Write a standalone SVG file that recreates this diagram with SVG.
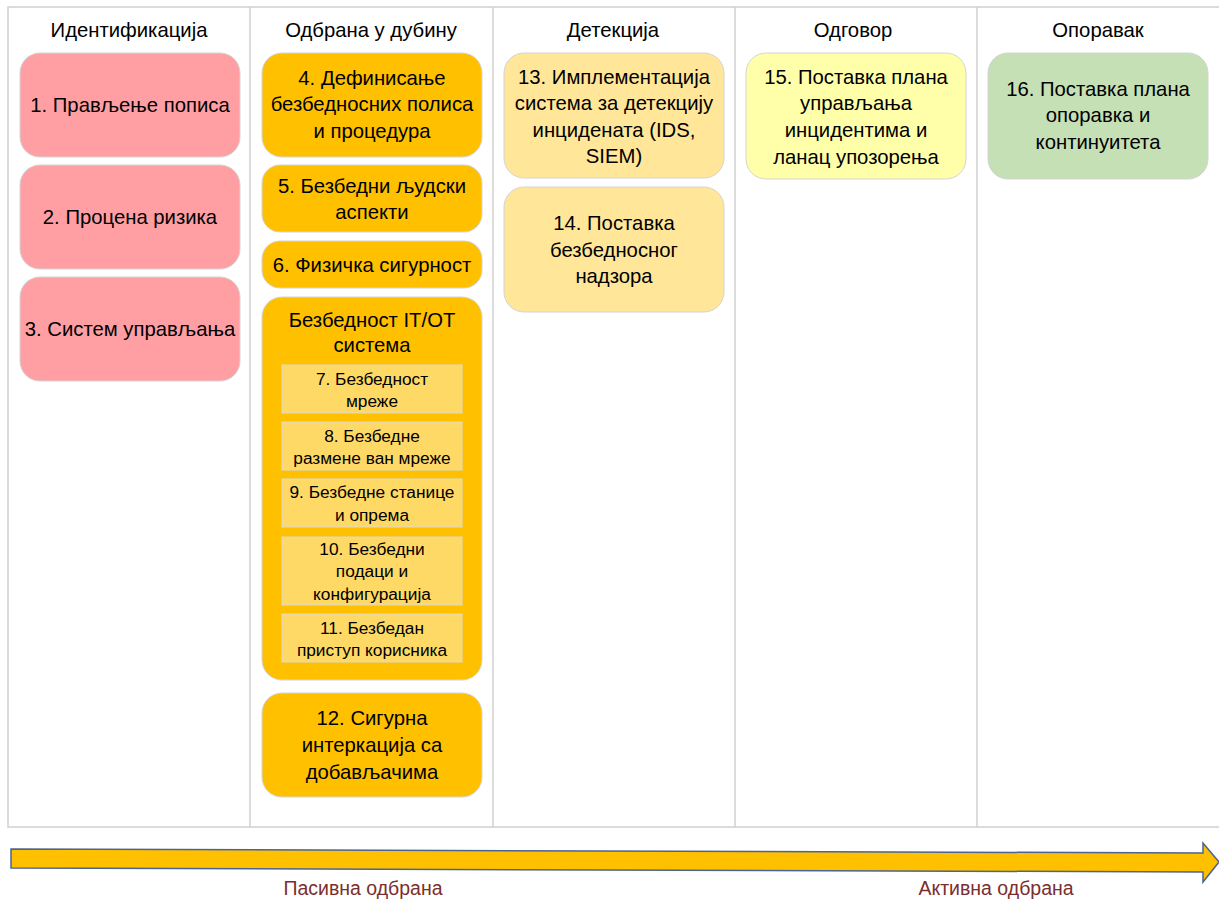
<svg xmlns="http://www.w3.org/2000/svg" width="1219" height="899" viewBox="0 0 1219 899">
<style>
text{font-family:"Liberation Sans",Arial,sans-serif;fill:#000;text-anchor:middle}
.h{font-size:20.3px}
.t{font-size:20.3px}
.s{font-size:17.3px}
.lab{font-size:19.5px;fill:#7B2E2E}
.grid{fill:none;stroke:#D0D0D0;stroke-width:1.5}
.b{stroke:#D4D4D4;stroke-width:1}
.pink{fill:#FF9FA4}
.org{fill:#FFC000}
.sub{fill:#FFD966;stroke:#D9D9D9;stroke-width:1}
.ly{fill:#FFE699}
.py{fill:#FFFFAA}
.gr{fill:#C5E0B4}
</style>
<rect width="1219" height="899" fill="#fff"/>
<g id="grid">
<rect class="grid" x="8" y="7" width="1220" height="820"/>
<line class="grid" x1="250" y1="7" x2="250" y2="827"/>
<line class="grid" x1="493" y1="7" x2="493" y2="827"/>
<line class="grid" x1="735" y1="7" x2="735" y2="827"/>
<line class="grid" x1="977" y1="7" x2="977" y2="827"/>
</g>
<g id="headers">
<text class="h" x="129" y="37">Идентификација</text>
<text class="h" x="371" y="37">Одбрана у дубину</text>
<text class="h" x="613" y="37">Детекција</text>
<text class="h" x="853" y="37">Одговор</text>
<text class="h" x="1098" y="37">Опоравак</text>
</g>
<g id="n1"><rect class="pink b" x="20" y="53" width="220" height="104" rx="20"/><text class="t" x="130" y="112">1. Прављење пописа</text></g>
<g id="n2"><rect class="pink b" x="20" y="165" width="220" height="104" rx="20"/><text class="t" x="130" y="224">2. Процена ризика</text></g>
<g id="n3"><rect class="pink b" x="20" y="277" width="220" height="104" rx="20"/><text class="t" x="130" y="336">3. Систем управљања</text></g>
<g id="n4"><rect class="org b" x="262" y="53" width="220" height="104" rx="20"/><text class="t" x="372" y="85">4. Дефинисање</text><text class="t" x="372" y="111">безбедносних полиса</text><text class="t" x="372" y="138">и процедура</text></g>
<g id="n5"><rect class="org b" x="262" y="165" width="220" height="67" rx="18"/><text class="t" x="372" y="193">5. Безбедни људски</text><text class="t" x="372" y="219">аспекти</text></g>
<g id="n6"><rect class="org b" x="262" y="241" width="220" height="47" rx="18"/><text class="t" x="372" y="272">6. Физичка сигурност</text></g>
<g id="itot"><rect class="org b" x="262" y="297" width="220" height="383" rx="20"/><text class="t" x="372" y="327">Безбедност IT/OT</text><text class="t" x="372" y="352">система</text></g>
<g id="n7"><rect class="sub" x="282" y="365" width="180" height="48"/><text class="s" x="372" y="385">7. Безбедност</text><text class="s" x="372" y="407">мреже</text></g>
<g id="n8"><rect class="sub" x="282" y="422" width="180" height="48"/><text class="s" x="372" y="442">8. Безбедне</text><text class="s" x="372" y="464">размене ван мреже</text></g>
<g id="n9"><rect class="sub" x="282" y="479" width="180" height="48"/><text class="s" x="372" y="498">9. Безбедне станице</text><text class="s" x="372" y="521">и опрема</text></g>
<g id="n10"><rect class="sub" x="282" y="537" width="180" height="68"/><text class="s" x="372" y="555">10. Безбедни</text><text class="s" x="372" y="577">подаци и</text><text class="s" x="372" y="600">конфигурација</text></g>
<g id="n11"><rect class="sub" x="282" y="614" width="180" height="48"/><text class="s" x="372" y="634">11. Безбедан</text><text class="s" x="372" y="656">приступ корисника</text></g>
<g id="n12"><rect class="org b" x="262" y="693" width="220" height="104" rx="20"/><text class="t" x="372" y="725">12. Сигурна</text><text class="t" x="372" y="752">интеркација са</text><text class="t" x="372" y="779">добављачима</text></g>
<g id="n13"><rect class="ly b" x="504" y="53" width="220" height="125" rx="20"/><text class="t" x="614" y="84">13. Имплементација</text><text class="t" x="614" y="110">система за детекцију</text><text class="t" x="614" y="137">инцидената (IDS,</text><text class="t" x="614" y="163">SIEM)</text></g>
<g id="n14"><rect class="ly b" x="504" y="187" width="220" height="125" rx="20"/><text class="t" x="614" y="230">14. Поставка</text><text class="t" x="614" y="257">безбедносног</text><text class="t" x="614" y="283">надзора</text></g>
<g id="n15"><rect class="py b" x="746" y="53" width="220" height="126" rx="20"/><text class="t" x="856" y="84">15. Поставка плана</text><text class="t" x="856" y="110">управљања</text><text class="t" x="856" y="137">инцидентима и</text><text class="t" x="856" y="164">ланац упозорења</text></g>
<g id="n16"><rect class="gr b" x="988" y="53" width="220" height="126" rx="20"/><text class="t" x="1098" y="96">16. Поставка плана</text><text class="t" x="1098" y="122">опоравка и</text><text class="t" x="1098" y="149">континуитета</text></g>
<g id="connectors">
<polygon points="11,849 1203,853 1203,843 1219,862 1203,882 1203,872 11,868" fill="#FFC000" stroke="#4A6494" stroke-width="1.5"/>
</g>
<g id="labels">
<text class="lab" x="363" y="895">Пасивна одбрана</text>
<text class="lab" x="996" y="895">Активна одбрана</text>
</g>
</svg>
